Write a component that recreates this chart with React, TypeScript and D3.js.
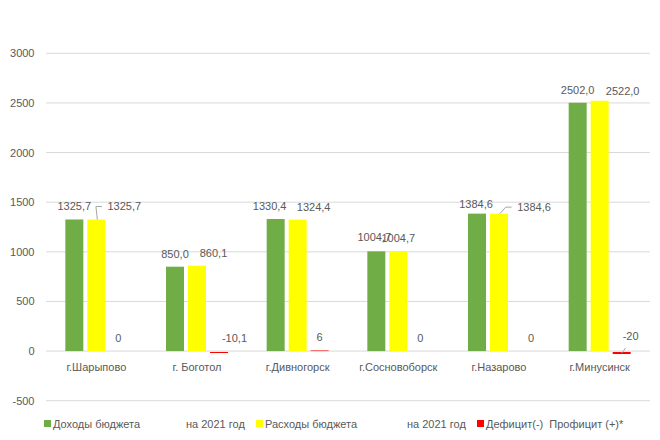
import React from "react";
import * as d3 from "d3";

const categories = ["г.Шарыпово", "г. Боготол", "г.Дивногорск", "г.Сосновоборск", "г.Назарово", "г.Минусинск"];
const income = [1325.7, 850.0, 1330.4, 1004.7, 1384.6, 2502.0];
const expenses = [1325.7, 860.1, 1324.4, 1004.7, 1384.6, 2522.0];
const balance = [0, -10.1, 6, 0, 0, -20];
const yTicks = [-500, 0, 500, 1000, 1500, 2000, 2500, 3000];
const seriesNames = [
  ["Доходы бюджета", "на 2021 год"],
  ["Расходы бюджета", "на 2021 год"],
  ["Дефицит(-)  Профицит (+)*", ""],
];

// label placement tweaks (manually dragged labels in the original)
const labelDx = [
  [0, 0, -6, -2, -1, 0],
  [28, 16.5, 16, 0, 35, 23],
  [0, 15.5, 0, 0, 10, 9],
];
const labelDy = [
  [0, 0, 0, -1, 3.5, 0],
  [0, 0, 0, 0, 6.5, 3.5],
  [0, 0, 0, 0, 0, -2],
];
const leaders = [
  [null, null, null, null, null, null],
  ["elbow", null, null, null, "elbow", null],
  [null, null, null, null, null, "short"],
];

const colors = ["#70AD47", "#FFFF00", "#FF0000"];
const W = 660, H = 440;
const font = "'Liberation Sans', Arial, sans-serif";
const textColor = "#595959";

export default function App() {
  const series = [income, expenses, balance];
  const x = d3.scaleBand<string>().domain(categories).range([46, 650]).paddingInner(0).paddingOuter(0);
  const inner = d3.scaleBand<number>().domain([0, 1, 2]).range([-31, 31]).paddingInner(4 / 22).paddingOuter(0);
  const y = d3.scaleLinear().domain([-500, 3000]).range([400.7, 53.3]);
  const bw = inner.bandwidth();

  const fmt = (s: number, v: number) =>
    s < 2 ? v.toFixed(1).replace(".", ",") : String(v).replace(".", ",");

  const legendX = [[44, 186], [256, 407], [477, 0]];

  return (
    <svg width={W} height={H} style={{ position: "absolute", left: 0, top: 0, background: "#fff" }} fontFamily={font}>
      <rect x={0} y={0} width={W} height={H} fill="#fff" />
      {yTicks.map((t) => (
        <g key={t}>
          <line x1={46} x2={650} y1={y(t)} y2={y(t)} stroke="#D9D9D9" strokeWidth={1} />
          <text x={34.5} y={y(t)} textAnchor="end" dominantBaseline="central" fontSize={11} fill={textColor}>
            {t}
          </text>
        </g>
      ))}
      {series.map((vals, s) =>
        vals.map((v, i) => {
          const cx = (x(categories[i]) as number) + x.bandwidth() / 2;
          const bx = cx + (inner(s) as number);
          const y0 = y(0);
          const yv = y(v);
          if (v < 0) {
            const h = Math.max(1, Math.round(yv - y0));
            return (
              <rect key={`b${s}-${i}`} x={bx} y={Math.round(y0) + 1} width={bw} height={h} fill={colors[s]} />
            );
          }
          return (
            <rect
              key={`b${s}-${i}`}
              x={bx}
              y={yv}
              width={bw}
              height={y0 - yv}
              fill={colors[s]}
            />
          );
        })
      )}
      {series.map((vals, s) =>
        vals.map((v, i) => {
          const cx = (x(categories[i]) as number) + x.bandwidth() / 2;
          const bcx = cx + (inner(s) as number) + bw / 2;
          const top = y(Math.max(v, 0));
          const lx = bcx + labelDx[s][i];
          const ly = top - 13 + labelDy[s][i];
          const txt = fmt(s, v);
          const halfW = txt.length * 2.9;
          let leader: React.ReactNode = null;
          if (leaders[s][i] === "elbow") {
            const left = lx - halfW;
            leader = (
              <polyline
                points={`${bcx + 1},${top} ${left - 11},${ly} ${left - 5},${ly}`}
                fill="none"
                stroke="#A6A6A6"
                strokeWidth={1}
              />
            );
          } else if (leaders[s][i] === "short") {
            const bottom = Math.round(y(0)) + 2;
            leader = (
              <line x1={bcx} y1={bottom} x2={bcx + 4} y2={bottom - 5} stroke="#A6A6A6" strokeWidth={1} />
            );
          }
          return (
            <g key={`l${s}-${i}`}>
              {leader}
              <text x={lx} y={ly} textAnchor="middle" dominantBaseline="central" fontSize={11} fill={textColor}>
                {txt}
              </text>
            </g>
          );
        })
      )}
      {categories.map((c) => (
        <text
          key={c}
          x={(x(c) as number) + x.bandwidth() / 2}
          y={367}
          textAnchor="middle"
          dominantBaseline="central"
          fontSize={11}
          fill={textColor}
        >
          {c}
        </text>
      ))}
      {seriesNames.map((n, s) => (
        <g key={`lg${s}`}>
          <rect x={legendX[s][0]} y={420} width={7} height={7} fill={colors[s]} />
          <text
            x={legendX[s][0] + 9}
            y={423.5}
            dominantBaseline="central"
            fontSize={11}
            fill={textColor}
            style={{ whiteSpace: "pre" }}
          >
            {n[0]}
          </text>
          {n[1] && (
            <text x={legendX[s][1]} y={423.5} dominantBaseline="central" fontSize={11} fill={textColor}>
              {n[1]}
            </text>
          )}
        </g>
      ))}
    </svg>
  );
}
